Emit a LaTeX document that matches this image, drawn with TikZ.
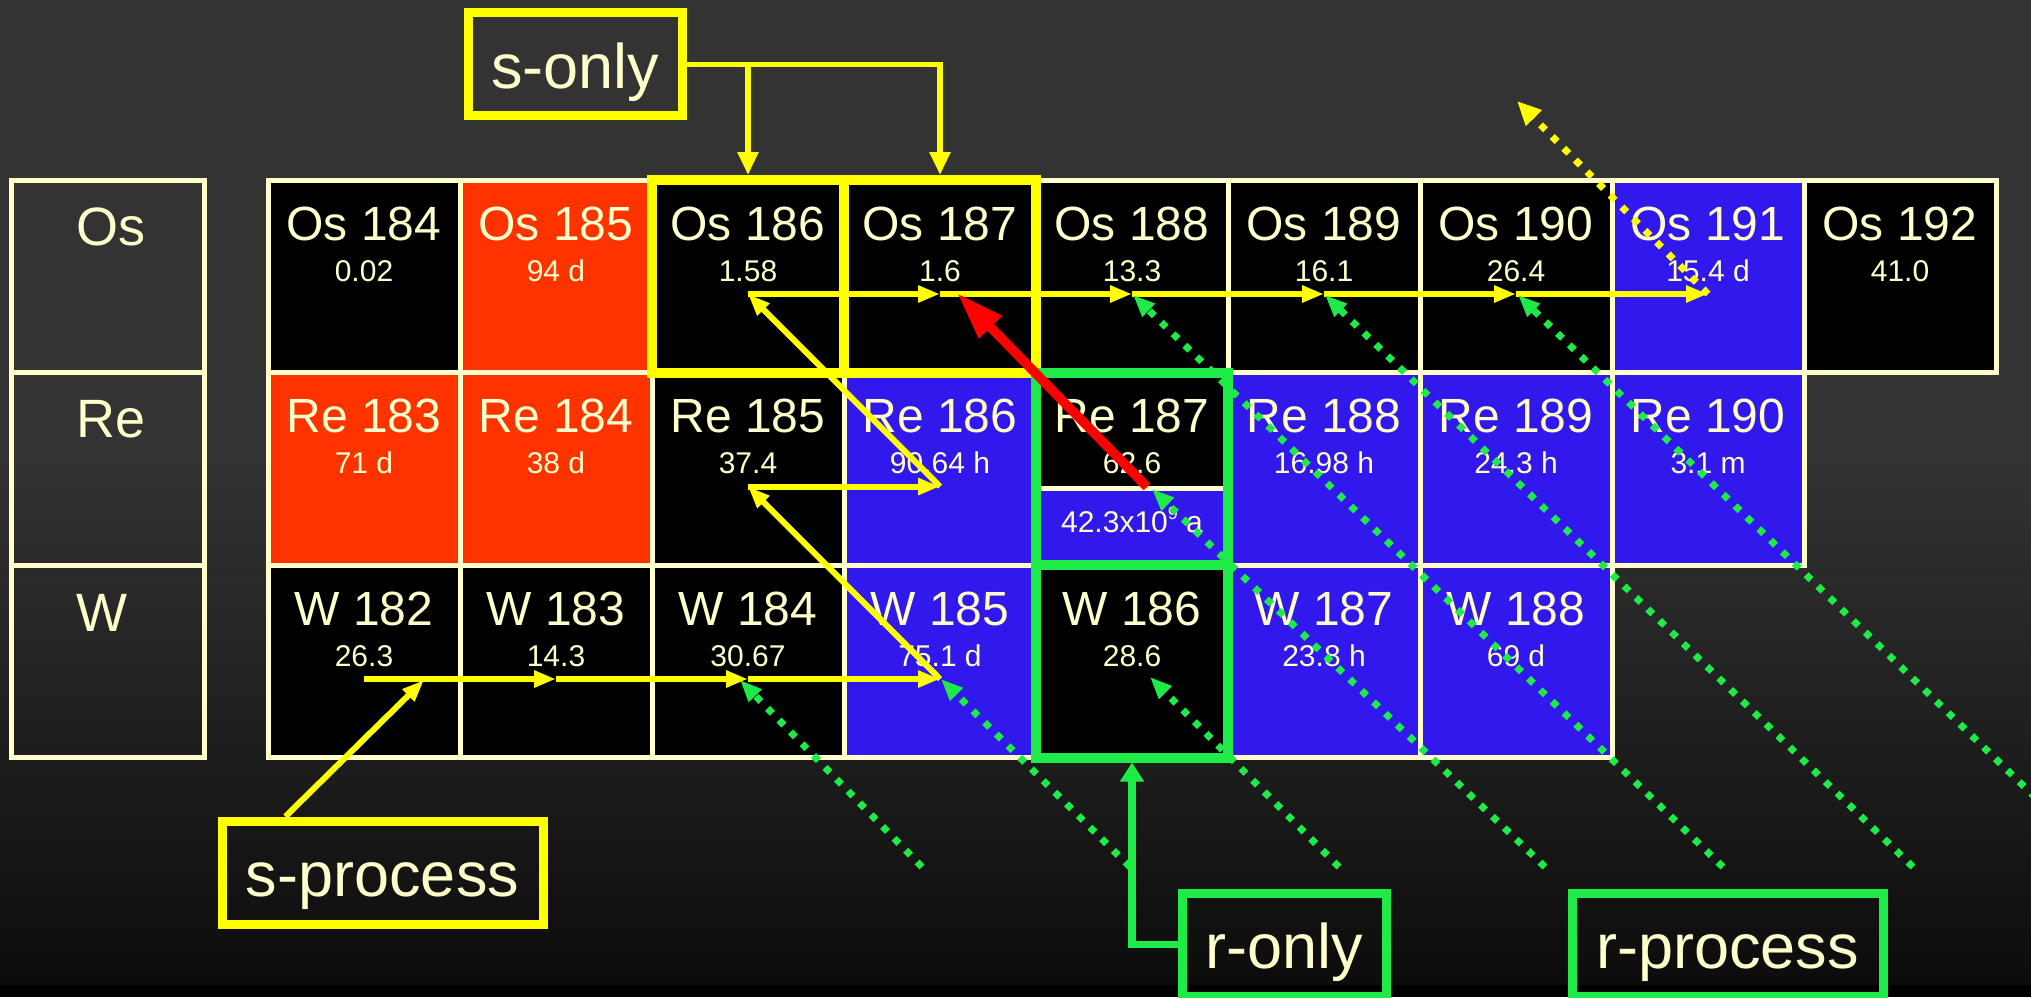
\documentclass[tikz,border=0pt]{standalone}
\usepackage{fontspec}
\setmainfont{Liberation Sans}
\usetikzlibrary{arrows.meta,calc}
\definecolor{bg}{HTML}{333333}
\definecolor{bgbot}{HTML}{0C0C0C}
\definecolor{cream}{HTML}{FFFFCC}
\definecolor{nred}{HTML}{FF3300}
\definecolor{nblue}{HTML}{3118EC}
\definecolor{ngreen}{HTML}{1EEB48}
\definecolor{nyel}{HTML}{FFFF00}
\definecolor{rarrow}{HTML}{FF0000}
\newcommand\nuc[6]{%
  \node[cell, fill=#4] (#1) at ({364+192*#2},{276.25+192.5*#3}) {};
  \node[nm] (#1-n) at ($(#1.north)+(0,60)$) {#5};
  \node[vl] (#1-v) at ($(#1.north)+(0,101)$) {#6};
  \coordinate (#1-p) at ($(#1.north)+(0,114)$);
}
\begin{document}
\begin{tikzpicture}[x=1pt,y=-1pt,
  cell/.style={draw=cream, line width=5pt, minimum width=192pt, minimum height=192.5pt, inner sep=0pt, outer sep=0pt},
  lblbox/.style={draw=cream, line width=5pt, minimum width=193pt, minimum height=192.5pt, inner sep=0pt, outer sep=0pt},
  nm/.style={font=\fontsize{48pt}{50pt}\selectfont, text=cream, anchor=base, inner sep=0pt},
  vl/.style={font=\fontsize{30pt}{32pt}\selectfont, text=cream, anchor=base, inner sep=0pt},
  lab/.style={font=\fontsize{54pt}{56pt}\selectfont, text=cream, anchor=base west, inner sep=0pt},
  ybox/.style={draw=nyel, line width=10pt, minimum width=192pt, minimum height=192.5pt, inner sep=0pt},
  gbox/.style={draw=ngreen, line width=10pt, minimum width=192pt, minimum height=192.5pt, inner sep=0pt},
  tag/.style={line width=9pt, inner sep=0pt, minimum height=103pt, text height=48pt, text depth=0pt,
    font=\fontsize{63pt}{65pt}\selectfont, text=cream},
  yarrow/.style={draw=nyel, line width=6pt, -{Triangle[length=22pt,width=16pt]}},
  sarrow/.style={draw=nyel, line width=5.5pt, -{Triangle[length=23pt,width=20pt]}},
  rarr/.style={draw=ngreen, line width=7.5pt, -{Triangle[length=19pt,width=23pt]}},
  redarr/.style={draw=rarrow, line width=9.5pt, -{Triangle[length=48pt,width=30pt]}},
  gdot/.style={draw=ngreen, line width=7pt, dash pattern=on 7pt off 9.5pt, -{Triangle[length=22pt,width=17pt]}},
  ydot/.style={draw=nyel, line width=7pt, dash pattern=on 7pt off 9.5pt, -{Triangle[length=24pt,width=21pt]}}
]
\useasboundingbox (0,0) rectangle (2031,997);
\clip (0,0) rectangle (2031,997);
% background
\fill[bg] (0,0) rectangle (2031,456);
\shade[top color=bg, bottom color=bgbot] (0,455) rectangle (2031,986);
\fill[black] (0,985) rectangle (2031,997);

% row label boxes
\node[lblbox] (lOs) at (108,276.25) {};
\node[lblbox] (lRe) at (108,468.75) {};
\node[lblbox] (lW) at (108,661.25) {};
\node[lab] (lOs-t) at ($(lOs.north west)+(65,65)$) {Os};
\node[lab] (lRe-t) at ($(lRe.north west)+(65,65)$) {Re};
\node[lab] (lW-t) at ($(lW.north west)+(65,66)$) {W};

% Os row
\nuc{Os184}{0}{0}{black}{Os 184}{0.02}
\nuc{Os185}{1}{0}{nred}{Os 185}{94 d}
\nuc{Os186}{2}{0}{black}{Os 186}{1.58}
\nuc{Os187}{3}{0}{black}{Os 187}{1.6}
\nuc{Os188}{4}{0}{black}{Os 188}{13.3}
\nuc{Os189}{5}{0}{black}{Os 189}{16.1}
\nuc{Os190}{6}{0}{black}{Os 190}{26.4}
\nuc{Os191}{7}{0}{nblue}{Os 191}{15.4 d}
\nuc{Os192}{8}{0}{black}{Os 192}{41.0}
% Re row
\nuc{Re183}{0}{1}{nred}{Re 183}{71 d}
\nuc{Re184}{1}{1}{nred}{Re 184}{38 d}
\nuc{Re185}{2}{1}{black}{Re 185}{37.4}
\nuc{Re186}{3}{1}{nblue}{Re 186}{90.64 h}
\nuc{Re187}{4}{1}{black}{Re 187}{62.6}
\nuc{Re188}{5}{1}{nblue}{Re 188}{16.98 h}
\nuc{Re189}{6}{1}{nblue}{Re 189}{24.3 h}
\nuc{Re190}{7}{1}{nblue}{Re 190}{3.1 m}
% W row
\nuc{W182}{0}{2}{black}{W 182}{26.3}
\nuc{W183}{1}{2}{black}{W 183}{14.3}
\nuc{W184}{2}{2}{black}{W 184}{30.67}
\nuc{W185}{3}{2}{nblue}{W 185}{75.1 d}
\nuc{W186}{4}{2}{black}{W 186}{28.6}
\nuc{W187}{5}{2}{nblue}{W 187}{23.8 h}
\nuc{W188}{6}{2}{nblue}{W 188}{69 d}

% Re 187 isomer part
\fill[nblue] ($(Re187.south west)+(2.5,-77)$) rectangle ($(Re187.south east)+(-2.5,-2.5)$);
\draw[cream, line width=5pt] ($(Re187.south west)+(0,-77)$) -- ($(Re187.south east)+(0,-77)$);
\node[vl] (Re187-iso) at ($(Re187.north)+(0,159.5)$) {42.3x10\raisebox{13pt}{\fontsize{18pt}{18pt}\selectfont 9} a};

% highlight boxes
\node[ybox] (yb186) at (Os186) {};
\node[ybox] (yb187) at (Os187) {};
\node[gbox] (gb187) at (Re187) {};
\node[gbox] (gb186) at (W186) {};

% tag boxes
\node[tag, draw=nyel, minimum width=213.5pt] (sonly) at (575.25,64.25) {s-only};
\node[tag, draw=nyel, minimum width=321pt] (sproc) at (382.5,872.5) {s-process};
\node[tag, draw=ngreen, minimum width=204pt] (ronly) at (1284,944.5) {r-only};
\node[tag, draw=ngreen, minimum width=311pt] (rproc) at (1727.5,944.5) {r-process};

% s-only connectors
\draw[sarrow] (sonly.east) -- (yb187.north |- sonly.east) -- (yb187.north);
\draw[sarrow] (yb186.north |- sonly.east) -- (yb186.north);
% r-only connector
\draw[rarr] (ronly.west) -- (gb186.south |- ronly.west) -- (gb186.south);

% s-process path
\coordinate (sp-tip) at (424,680);
\draw[yarrow] ($(sproc.north west)!0.206!(sproc.north east)$) -- (sp-tip);
\draw[yarrow] (W182-p) -- (W183-p);
\draw[yarrow] (W183-p) -- (W184-p);
\draw[yarrow] (W184-p) -- (W185-p);
\draw[yarrow] (W185-p) -- (Re185-p);
\draw[yarrow] (Re185-p) -- (Re186-p);
\draw[yarrow] (Re186-p) -- (Os186-p);
\draw[yarrow] (Os186-p) -- (Os187-p);
\draw[yarrow] (Os187-p) -- (Os188-p);
\draw[yarrow] (Os188-p) -- (Os189-p);
\draw[yarrow] (Os189-p) -- (Os190-p);
\draw[yarrow] (Os190-p) -- (Os191-p);
\coordinate (yd-end) at (1517,101);
\draw[ydot] (Os191-p) -- (yd-end);

% r-process paths
\coordinate (gs1) at (922,867);  \coordinate (gt1) at (740,680);
\coordinate (gs2) at (1130,867); \coordinate (gt2) at (941,679);
\coordinate (gs3) at (1339,867); \coordinate (gt3) at (1150,677);
\coordinate (gs4) at (1545,867); \coordinate (gt4) at (1152,489);
\coordinate (gs5) at (1723,867); \coordinate (gt5) at (1133,295);
\coordinate (gs6) at (1913,867); \coordinate (gt6) at (1325,295);
\coordinate (gs7) at (2107,867); \coordinate (gt7) at (1518,295);
\foreach \i in {1,...,7} { \draw[gdot] (gs\i) -- (gt\i); }

% beta decay of Re 187
\coordinate (rd-start) at (1147,487);
\coordinate (rd-end) at (957,293);
\draw[redarr] (rd-start) -- (rd-end);
\end{tikzpicture}
\end{document}
